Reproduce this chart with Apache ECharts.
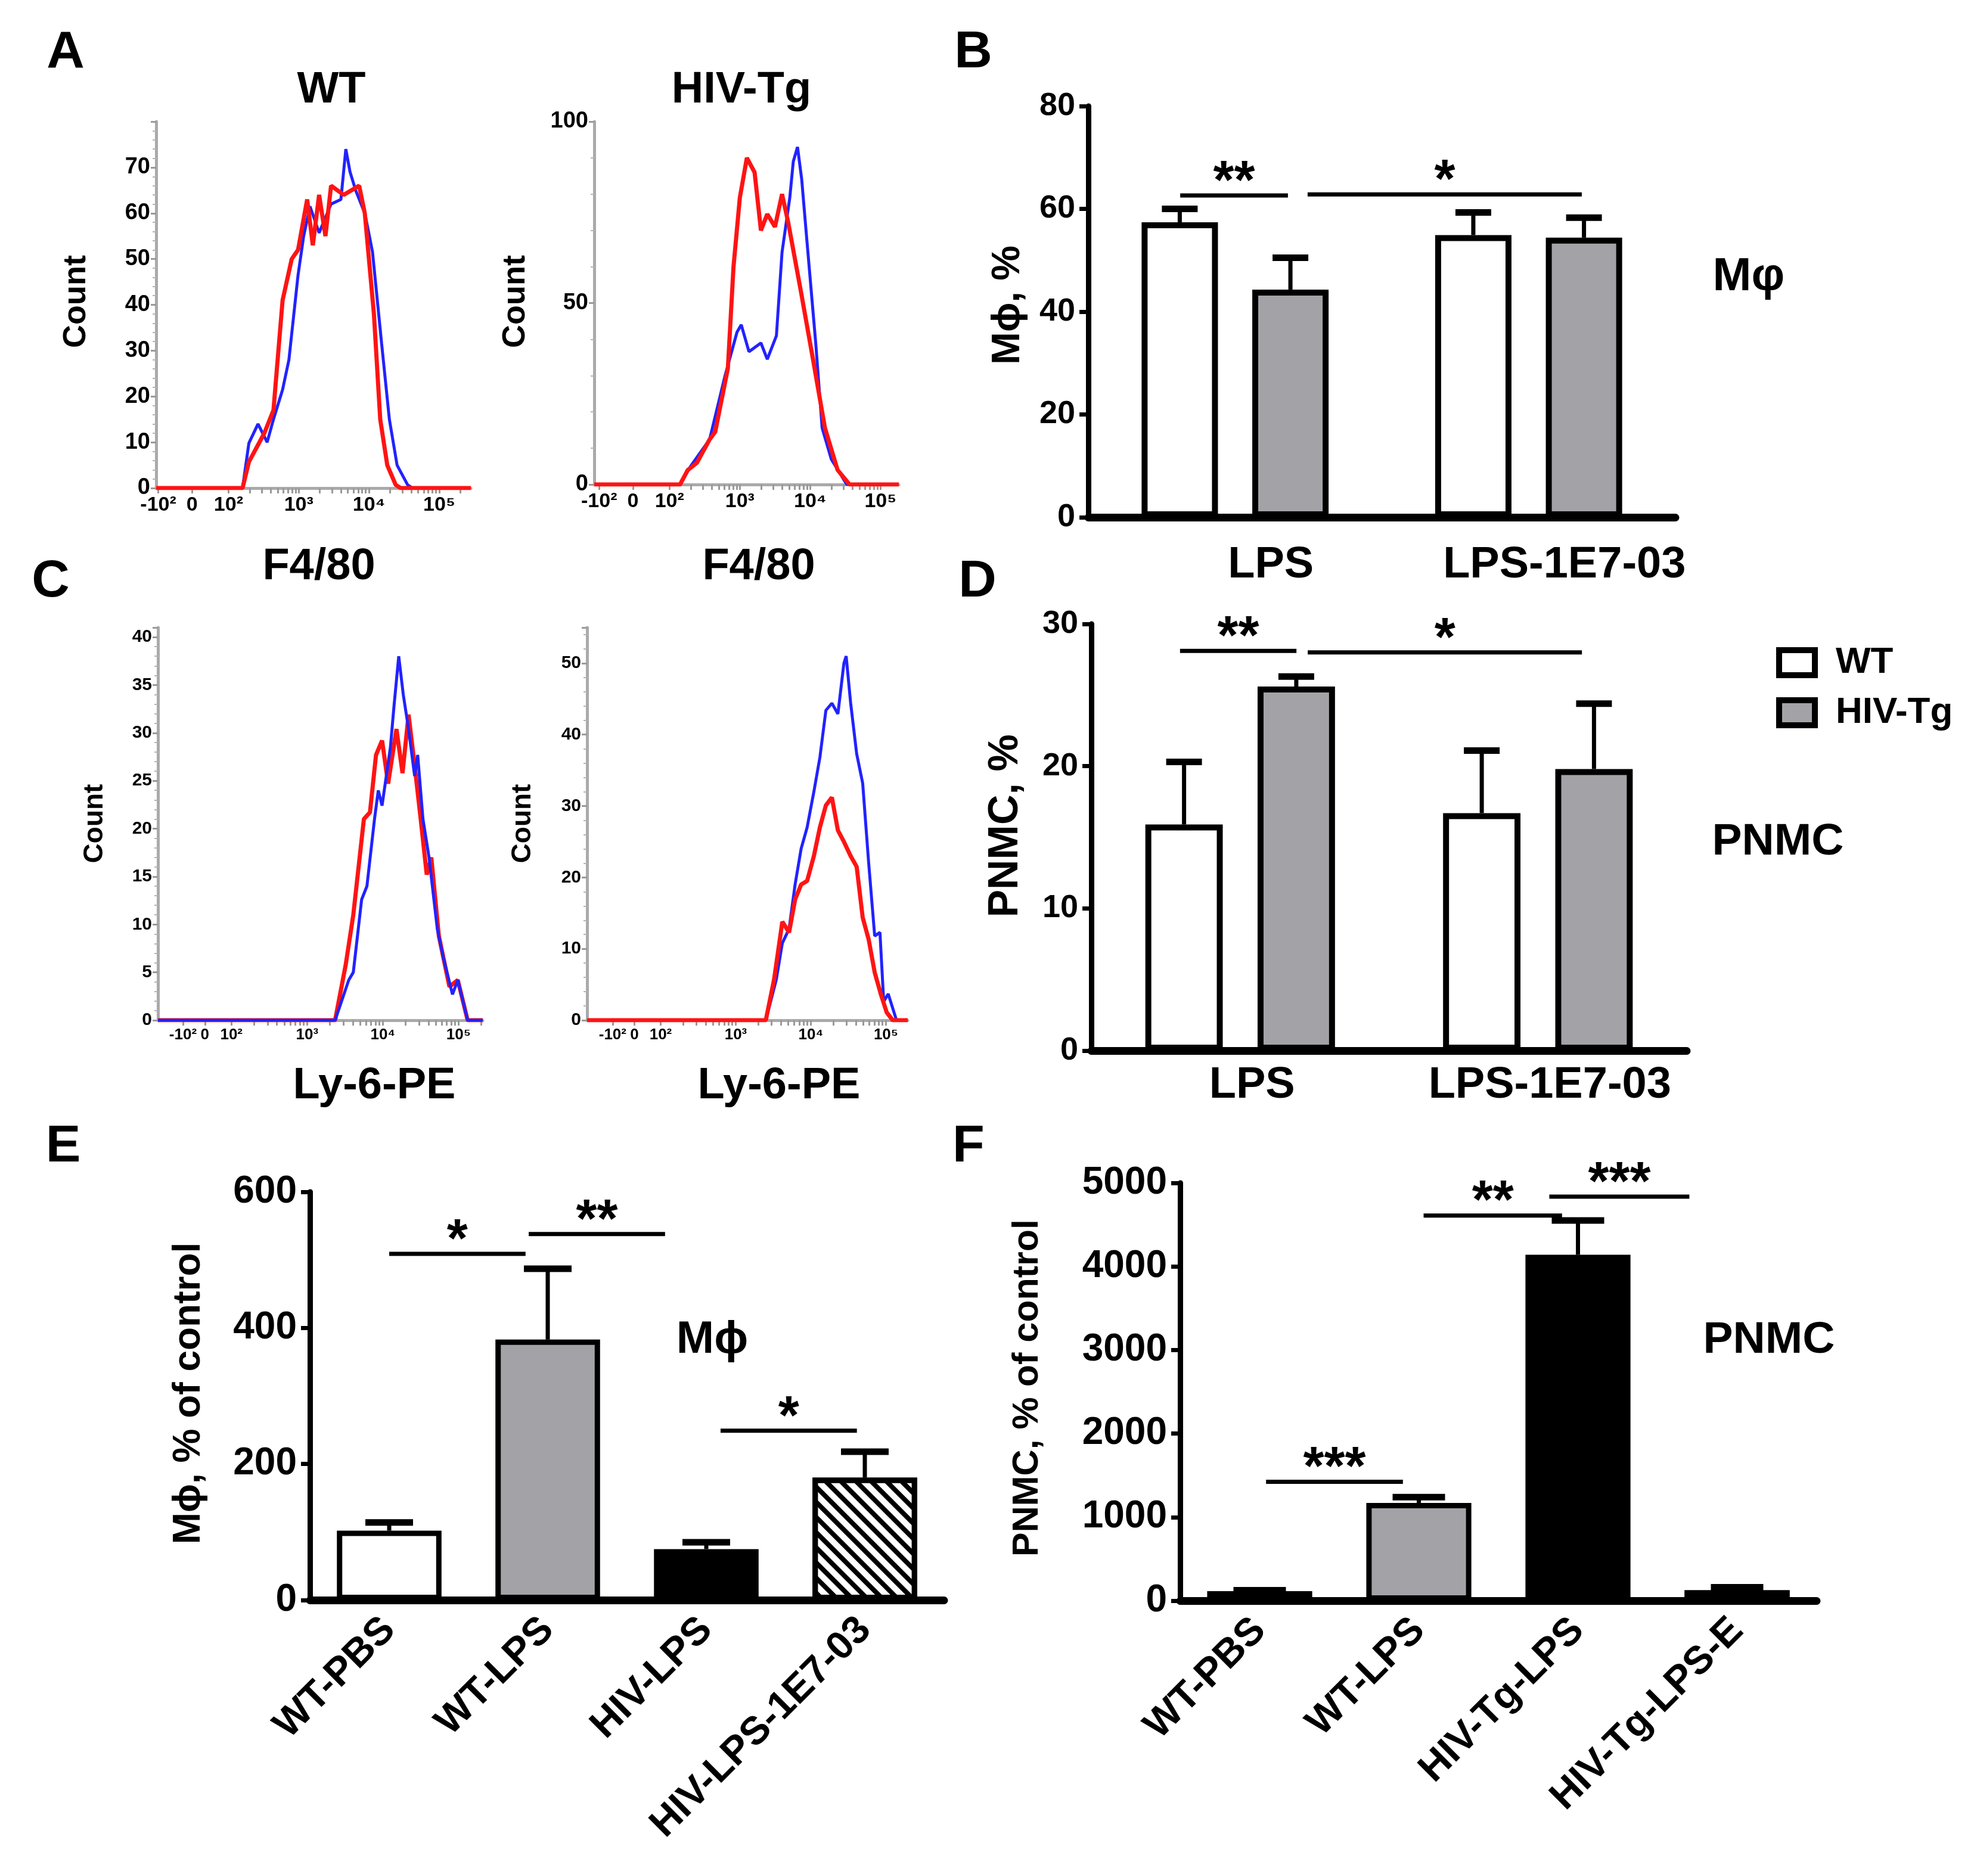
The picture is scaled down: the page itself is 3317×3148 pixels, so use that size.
<!DOCTYPE html>
<html>
<head>
<meta charset="utf-8">
<script src="https://cdn.jsdelivr.net/npm/echarts@6/dist/echarts.min.js"></script>
<style>
html, body { margin: 0; background: #fff; }
#fig { width: 3317px; height: 3148px; }
</style>
</head>
<body>
<div id="fig"></div>
<script>
// ---- flow histograms: [position on biexponential axis (10^k -> k), count]
var f480WtBlue = [[0.97,0],[2.2,0],[2.29,9.8],[2.42,14],[2.55,10],[2.64,15],[2.77,21.5],[2.86,28],[2.99,46.5],[3.07,55],[3.16,61.5],[3.29,55.7],[3.46,62],[3.6,63],[3.67,74],[3.73,69],[3.81,65],[3.94,60],[3.98,57],[4.05,51.5],[4.18,31.5],[4.29,15],[4.4,5],[4.55,0.7],[4.62,0],[5.45,0]];
var f480WtRed = [[0.97,0],[2.2,0],[2.29,5.7],[2.51,12],[2.64,17],[2.77,41],[2.9,50],[2.99,52],[3.12,63],[3.2,53],[3.29,64],[3.38,55],[3.46,66],[3.64,64],[3.86,66],[3.94,60],[4.07,38],[4.16,15],[4.26,5],[4.38,0.7],[4.45,0],[5.45,0]];
var f480TgBlue = [[0.93,0],[2.15,0],[2.3,5],[2.57,12.4],[2.79,30],[2.96,42],[3.02,44],[3.13,36.6],[3.3,39],[3.39,34.5],[3.52,41],[3.6,64],[3.71,79],[3.76,89],[3.82,93],[3.88,84],[3.95,68],[4.08,38.7],[4.17,15.6],[4.3,7],[4.52,0],[5.26,0]];
var f480TgRed = [[0.93,0],[2.15,0],[2.26,4],[2.39,6],[2.57,12.4],[2.65,14.5],[2.83,32],[2.91,60],[3.0,79],[3.1,90],[3.21,86],[3.3,70],[3.39,74.5],[3.5,71],[3.6,80],[3.69,72],[3.87,53],[4.04,34.5],[4.21,15.6],[4.39,4],[4.56,0],[5.26,0]];
var ly6WtBlue = [[1.03,0],[3.37,0],[3.55,4.2],[3.61,5],[3.72,12.6],[3.79,14],[3.89,21],[3.94,24],[3.99,22.4],[4.1,28.5],[4.15,33],[4.21,38],[4.27,34],[4.34,30.4],[4.42,25.5],[4.46,27.7],[4.53,21],[4.61,17],[4.72,9.5],[4.8,6.5],[4.92,2.7],[4.99,4.2],[5.12,0],[5.32,0]];
var ly6WtRed = [[1.03,0],[3.37,0],[3.51,5.8],[3.61,11],[3.75,21],[3.83,21.7],[3.91,27.7],[3.99,29.2],[4.07,24.7],[4.18,30.4],[4.26,25.8],[4.34,31.9],[4.42,26.6],[4.5,21],[4.58,15.2],[4.64,17],[4.74,8.8],[4.88,3.5],[4.99,4.2],[5.12,0],[5.32,0]];
var ly6TgBlue = [[1.02,0],[3.4,0],[3.54,5.7],[3.62,10.8],[3.71,12.8],[3.79,19],[3.87,24],[3.95,27],[4.04,32],[4.12,36.8],[4.2,43.4],[4.28,44.4],[4.36,42.9],[4.44,50],[4.47,51],[4.53,44.4],[4.61,37.3],[4.69,33.2],[4.77,22],[4.85,11.8],[4.92,12.3],[4.97,2.6],[5.03,3.7],[5.14,0],[5.29,0]];
var ly6TgRed = [[1.02,0],[3.4,0],[3.51,5.7],[3.62,13.8],[3.71,12.3],[3.79,16.9],[3.87,19],[3.95,19.5],[4.04,23],[4.12,27],[4.2,30.1],[4.28,31.2],[4.36,26.6],[4.44,25],[4.53,23],[4.61,21.5],[4.69,14.4],[4.77,11.3],[4.85,6.7],[4.93,3.7],[5.01,1.1],[5.09,0],[5.29,0]];

var flowLabels = ['-10²', '0', '10²', '10³', '10⁴', '10⁵'];
var f480TickPos = [1.0, 1.48, 2, 3, 4, 5];
var ly6TickPos = [1.36, 1.65, 2, 3, 4, 5];

// ---- bar panels
var groupCats = ['LPS', 'LPS-1E7-03'];
var mphWT = [57.4, 54.9], mphWTErr = [2.6, 4.4];
var mphTg = [44.3, 54.4], mphTgErr = [6.2, 3.9];
var pnmcWT = [15.9, 16.7], pnmcWTErr = [4.4, 4.4];
var pnmcTg = [25.6, 19.8], pnmcTgErr = [0.7, 4.6];

var eCats = ['WT-PBS', 'WT-LPS', 'HIV-LPS', 'HIV-LPS-1E7-03'];
var eVals = [102, 383, 75, 180], eErr = [12, 104, 10, 38];
var fCats = ['WT-PBS', 'WT-LPS', 'HIV-Tg-LPS', 'HIV-Tg-LPS-E'];
var fVals = [115, 1170, 4140, 125], fErr = [10, 70, 410, 35];

// significance bars: [from, to, height, stars]  (x in category units)
var bSig = [[0.313, 0.680, 62.6, '**'], [0.747, 1.681, 62.8, '*']];
var dSig = [[0.298, 0.689, 28.1, '**'], [0.727, 1.648, 28.0, '*']];
var eSig = [[0.50, 1.36, 509, '*'], [1.38, 2.24, 538, '**'], [2.59, 3.45, 249, '*']];
var fSig = [[0.54, 1.40, 1423, '***'], [1.53, 2.40, 4610, '**'], [2.32, 3.20, 4836, '***']];

var FONT = "'Liberation Sans', Arial, sans-serif";
var GRAY = '#a3a2a7';
var RED = '#ff1414';
var BLUE = '#2222ff';

var myChart = echarts.init(document.getElementById('fig'));

var grid = [], xAxis = [], yAxis = [], series = [];

function histogram(box, xMin, xMax, yMax, yStep, showTop, tickPos, fs, curves) {
	grid.push(box);
	var g = grid.length - 1;
	var ticks = tickPos.slice();
	for (var d = 2; d <= 5; d++) {
		for (var k = 2; k < 10; k++) {
			if (d + Math.log10(k) < xMax) ticks.push(d + Math.log10(k));
		}
	}
	xAxis.push({
		gridIndex: g, type: 'value', min: xMin, max: xMax,
		axisLine: { show: true, lineStyle: { color: '#aaaaaa', width: 5 } },
		axisTick: { show: true, customValues: ticks, length: 9, lineStyle: { color: '#9a9a9a', width: 3 } },
		axisLabel: {
			customValues: tickPos, margin: 12, color: '#000', fontSize: fs, fontWeight: 'bold', fontFamily: FONT,
			formatter: function (v) {
				var best = 0;
				for (var i = 0; i < tickPos.length; i++) {
					if (Math.abs(tickPos[i] - v) < Math.abs(tickPos[best] - v)) best = i;
				}
				return flowLabels[best];
			}
		},
		splitLine: { show: false }
	});
	yAxis.push({
		gridIndex: g, type: 'value', min: 0, max: yMax, interval: yStep,
		axisLine: { show: true, lineStyle: { color: '#aaaaaa', width: 5 } },
		axisTick: { show: true, length: 9, lineStyle: { color: '#9a9a9a', width: 3 } },
		minorTick: { show: true, splitNumber: 5, length: 6, lineStyle: { color: '#b5b5b5', width: 2 } },
		axisLabel: { showMaxLabel: showTop, margin: 10, color: '#000', fontSize: fs + 4, fontWeight: 'bold', fontFamily: FONT },
		splitLine: { show: false }
	});
	curves.forEach(function (c) {
		series.push({
			type: 'line', xAxisIndex: xAxis.length - 1, yAxisIndex: yAxis.length - 1,
			data: c.data, showSymbol: false, animation: false, z: c.z,
			lineStyle: { color: c.color, width: c.width }, itemStyle: { color: c.color }
		});
	});
}

function errSeries(xi, yi, pts, cap) {
	return {
		type: 'custom', xAxisIndex: xi, yAxisIndex: yi, z: 5, silent: true, animation: false,
		data: pts,
		renderItem: function (p, api) {
			var a = api.coord([api.value(0), api.value(1)]);
			var b = api.coord([api.value(0), api.value(1) + api.value(2)]);
			return {
				type: 'group', children: [
					{ type: 'line', shape: { x1: a[0], y1: a[1], x2: b[0], y2: b[1] }, style: { stroke: '#000', lineWidth: 7 } },
					{ type: 'line', shape: { x1: b[0] - cap, y1: b[1], x2: b[0] + cap, y2: b[1] }, style: { stroke: '#000', lineWidth: 11 } }
				]
			};
		}
	};
}

function sigSeries(xi, yi, marks, fs) {
	return {
		type: 'custom', xAxisIndex: xi, yAxisIndex: yi, z: 6, silent: true, animation: false,
		data: marks.map(function (m) { return [m[0], m[1], m[2]]; }),
		renderItem: function (p, api) {
			var a = api.coord([api.value(0), api.value(2)]);
			var b = api.coord([api.value(1), api.value(2)]);
			return {
				type: 'group', children: [
					{ type: 'line', shape: { x1: a[0], y1: a[1], x2: b[0], y2: b[1] }, style: { stroke: '#000', lineWidth: 7 } },
					{ type: 'text', x: (a[0] + b[0]) / 2, y: a[1] - 20,
					  style: { text: marks[p.dataIndex][3], fill: '#000', font: 'bold ' + fs + 'px ' + FONT,
						align: 'center', verticalAlign: 'middle', textAlign: 'center', textVerticalAlign: 'middle' } }
				]
			};
		}
	};
}

function barAxes(box, cats, yMax, yStep, tickFs, catLabel) {
	grid.push(box);
	var g = grid.length - 1;
	xAxis.push({
		gridIndex: g, type: 'category', data: cats,
		axisLine: { show: true, lineStyle: { color: '#000', width: 13 } },
		axisTick: { show: false },
		axisLabel: catLabel,
		splitLine: { show: false }
	});
	var cx = xAxis.length - 1;
	xAxis.push({ gridIndex: g, type: 'value', min: 0, max: cats.length, show: false });
	var vx = xAxis.length - 1;
	yAxis.push({
		gridIndex: g, type: 'value', min: 0, max: yMax, interval: yStep,
		axisLine: { show: true, lineStyle: { color: '#000', width: 9 } },
		axisTick: { show: true, length: 15, lineStyle: { color: '#000', width: 7 } },
		axisLabel: { margin: 22, color: '#000', fontSize: tickFs, fontWeight: 'bold', fontFamily: FONT,
			formatter: function (v) { return String(v); } },
		splitLine: { show: false }
	});
	return { cx: cx, vx: vx, y: yAxis.length - 1 };
}

// ---- A / C histograms
histogram({ left: 262, top: 204, width: 528, height: 615 }, 0.97, 5.45, 80, 10, false, f480TickPos, 34, [
	{ data: f480WtBlue, color: BLUE, width: 5, z: 2 },
	{ data: f480WtRed, color: RED, width: 7, z: 3 }
]);
histogram({ left: 997, top: 204, width: 511, height: 609 }, 0.93, 5.26, 100, 50, true, f480TickPos, 34, [
	{ data: f480TgBlue, color: BLUE, width: 5, z: 2 },
	{ data: f480TgRed, color: RED, width: 7, z: 3 }
]);
histogram({ left: 265, top: 1053, width: 545, height: 659 }, 1.03, 5.32, 41, 5, false, ly6TickPos, 26, [
	{ data: ly6WtRed, color: RED, width: 7, z: 2 },
	{ data: ly6WtBlue, color: BLUE, width: 5, z: 3 }
]);
histogram({ left: 985, top: 1053, width: 538, height: 659 }, 1.02, 5.29, 55, 10, false, ly6TickPos, 26, [
	{ data: ly6TgBlue, color: BLUE, width: 5, z: 2 },
	{ data: ly6TgRed, color: RED, width: 7, z: 3 }
]);

// ---- B / D grouped bars
var BW = 0.26, GAP = 0.45;
var OFF = BW * (1 + GAP) / 2;
var wtStyle = { color: '#fff', borderColor: '#000', borderWidth: 10 };
var tgStyle = { color: GRAY, borderColor: '#000', borderWidth: 10 };

function groupedPanel(box, yMax, yStep, wt, wtErr, tg, tgErr, sig, labelMargin, labelPad) {
	var ax = barAxes(box, groupCats, yMax, yStep, 54, {
		interval: 0, margin: labelMargin, color: '#000', fontSize: 74, fontWeight: 'bold', fontFamily: FONT, padding: labelPad
	});
	series.push({ type: 'bar', name: 'WT', xAxisIndex: ax.cx, yAxisIndex: ax.y, data: wt,
		barWidth: (BW * 100) + '%', barGap: (GAP * 100) + '%', itemStyle: wtStyle, animation: false });
	series.push({ type: 'bar', name: 'HIV-Tg', xAxisIndex: ax.cx, yAxisIndex: ax.y, data: tg,
		barWidth: (BW * 100) + '%', barGap: (GAP * 100) + '%', itemStyle: tgStyle, animation: false });
	var pts = [];
	groupCats.forEach(function (c, i) {
		pts.push([i + 0.5 - OFF, wt[i], wtErr[i]]);
		pts.push([i + 0.5 + OFF, tg[i], tgErr[i]]);
	});
	series.push(errSeries(ax.vx, ax.y, pts, 30));
	series.push(sigSeries(ax.vx, ax.y, sig, 90));
}

groupedPanel({ left: 1826, top: 178, width: 985, height: 690 }, 80, 20, mphWT, mphWTErr, mphTg, mphTgErr, bSig, 44, [0, 0, 0, 120]);
groupedPanel({ left: 1831, top: 1047, width: 999, height: 716 }, 30, 10, pnmcWT, pnmcWTErr, pnmcTg, pnmcTgErr, dSig, 22, [0, 0, 0, 40]);

// ---- E / F single bars
var hatch = { symbol: 'rect', symbolSize: 1, dashArrayX: [1, 0], dashArrayY: [8, 10], rotation: Math.PI / 4, color: '#000' };
var fills = [
	{ color: '#fff', borderColor: '#000', borderWidth: 9 },
	{ color: GRAY, borderColor: '#000', borderWidth: 9 },
	{ color: '#000', borderColor: '#000', borderWidth: 9 },
	{ color: '#fff', borderColor: '#000', borderWidth: 9, decal: hatch }
];

function singlePanel(box, cats, vals, errs, yMax, yStep, sig, cap) {
	var ax = barAxes(box, cats, yMax, yStep, 64, {
		interval: 0, rotate: 45, margin: 40, color: '#000', fontSize: 66, fontWeight: 'bold', fontFamily: FONT
	});
	series.push({ type: 'bar', xAxisIndex: ax.cx, yAxisIndex: ax.y, barWidth: '66%', animation: false,
		data: vals.map(function (v, i) { return { value: v, itemStyle: fills[i] }; }) });
	series.push(errSeries(ax.vx, ax.y, vals.map(function (v, i) { return [i + 0.5, v, errs[i]]; }), cap));
	series.push(sigSeries(ax.vx, ax.y, sig, 90));
}

singlePanel({ left: 520, top: 2000, width: 1064, height: 685 }, eCats, eVals, eErr, 600, 200, eSig, 40);
singlePanel({ left: 1980, top: 1985, width: 1068, height: 701 }, fCats, fVals, fErr, 5000, 1000, fSig, 44);

grid.forEach(function (g) { g.outerBoundsMode = 'none'; g.containLabel = false; });

// ---- free text
function txt(x, y, s, size, rot) {
	return {
		type: 'text', x: x, y: y, rotation: rot || 0, silent: true,
		style: { text: s, fill: '#000', font: 'bold ' + size + 'px ' + FONT,
			align: 'center', verticalAlign: 'middle', textAlign: 'center', textVerticalAlign: 'middle' }
	};
}
var R = Math.PI / 2;
var texts = [
	txt(110, 89, 'A', 88), txt(1633, 89, 'B', 88), txt(85, 977, 'C', 88),
	txt(1640, 977, 'D', 88), txt(106, 1925, 'E', 88), txt(1625, 1925, 'F', 88),
	txt(556, 152, 'WT', 74), txt(1244, 152, 'HIV-Tg', 74),
	txt(535, 952, 'F4/80', 74), txt(1273, 952, 'F4/80', 74),
	txt(628, 1823, 'Ly-6-PE', 74), txt(1307, 1823, 'Ly-6-PE', 74),
	txt(128, 506, 'Count', 54, R), txt(865, 506, 'Count', 54, R),
	txt(159, 1382, 'Count', 46, R), txt(877, 1382, 'Count', 46, R),
	txt(1692, 512, 'Mϕ, %', 66, R), txt(1688, 1386, 'PNMC, %', 70, R),
	txt(317, 2338, 'Mϕ, % of control', 64, R), txt(1724, 2329, 'PNMC, % of control', 61, R),
	txt(2934, 465, 'Mφ', 78), txt(2983, 1413, 'PNMC', 75),
	txt(1195, 2249, 'Mϕ', 76), txt(2968, 2249, 'PNMC', 75)
];

option = {
	backgroundColor: '#fff',
	animation: false,
	grid: grid,
	xAxis: xAxis,
	yAxis: yAxis,
	legend: {
		left: 2975, top: 1076, orient: 'vertical', icon: 'rect',
		itemWidth: 60, itemHeight: 42, itemGap: 22, selectedMode: false,
		textStyle: { color: '#000', fontSize: 62, fontWeight: 'bold', fontFamily: FONT, padding: [0, 0, 0, 30] },
		data: [
			{ name: 'WT', itemStyle: { color: '#fff', borderColor: '#000', borderWidth: 10 } },
			{ name: 'HIV-Tg', itemStyle: { color: GRAY, borderColor: '#000', borderWidth: 10 } }
		]
	},
	graphic: { elements: texts },
	series: series
};

myChart.setOption(option);

window.addEventListener('resize', function () {
	myChart.resize();
});
</script>
</body>
</html>
